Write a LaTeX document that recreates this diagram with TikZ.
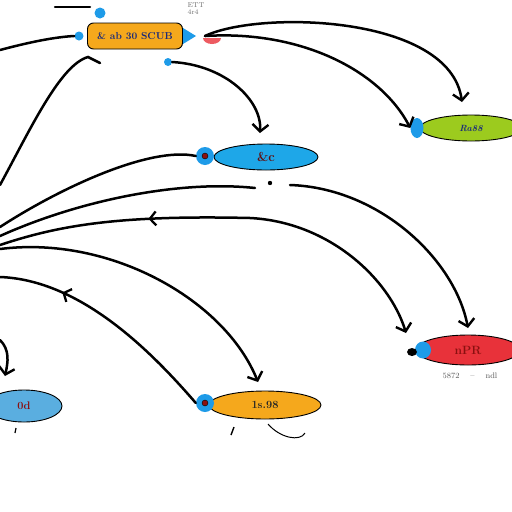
\documentclass[tikz,border=0pt]{standalone}
\usetikzlibrary{arrows.meta,shapes.geometric,decorations.markings}
\definecolor{pillorange}{HTML}{F5A81C}
\definecolor{capblue}{HTML}{1E9BE8}
\definecolor{ellblue}{HTML}{1EA7E8}
\definecolor{ellgreen}{HTML}{9CCB1E}
\definecolor{ellred}{HTML}{E8323A}
\definecolor{elllight}{HTML}{5AAEE0}
\definecolor{inkblue}{HTML}{1A2A7A}
\definecolor{inkred}{HTML}{8A1010}
\tikzset{
  conn/.style={line width=2.5pt, black, line cap=round},
  tip/.style={-{Straight Barb[length=7pt,width=16pt,line width=2.4pt]}},
  ell/.style={ellipse, draw=black, line width=0.9pt, inner sep=0pt},
  cap/.style={circle, fill=capblue, inner sep=0pt, minimum size=#1},
  reddot/.style={circle, fill=inkred, draw=black, line width=0.4pt, inner sep=0pt, minimum size=6pt},
  midback/.style={postaction={decorate, decoration={markings,
     mark=at position #1 with {\arrowreversed[line width=2.3pt]{Straight Barb[length=6pt,width=14pt]}}}}}
}
\begin{document}
\begin{tikzpicture}[x=1pt,y=-1pt]
\useasboundingbox[fill=white] (0,0) rectangle (512,512);

% ---------- nodes ----------
% top orange pill
\node[draw=black, line width=0.9pt, fill=pillorange, rounded corners=6pt,
      minimum width=95pt, minimum height=26pt, inner sep=0pt] (pill) at (135,36)
      {\textcolor{inkblue}{\fontsize{10}{10}\selectfont\bfseries \& ab 30 SCUB}};
\fill[capblue] (183,28) -- (196,36) -- (183,44) -- cycle;
\node[cap=9pt] (pl) at (79,36) {};
\node[cap=11pt] (pt) at (100,13) {};
\node[cap=8pt] (pb) at (168,62) {};
\fill[ellred!80] (203,38) arc[start angle=180,end angle=360,x radius=9pt,y radius=6pt] -- cycle;
\coordinate (pr) at (205,36);

% blue ellipse
\node[ell, fill=ellblue, minimum width=104pt, minimum height=26pt] (eb) at (266,157)
      {\textcolor{inkred!70!black}{\fontsize{13}{13}\selectfont\bfseries\&c}};
\node[cap=18pt] (ebc) at (205,156) {};
\node[reddot] at (ebc) {};

% green ellipse
\node[ell, fill=ellgreen, minimum width=102pt, minimum height=26pt] (eg) at (471,128)
      {\textcolor{inkblue}{\fontsize{9}{9}\selectfont\bfseries\itshape Ra88}};
\node[ellipse, fill=capblue, minimum width=13pt, minimum height=20pt, inner sep=0pt] (egc) at (417,128) {};

% red ellipse
\node[ell, fill=ellred, minimum width=104pt, minimum height=30pt] (er) at (468,350)
      {\textcolor{inkred}{\fontsize{12}{12}\selectfont\bfseries nPR}};
\node[ellipse, fill=capblue, minimum width=16pt, minimum height=17pt, inner sep=0pt] (erc) at (423,350) {};
\fill[black] (412,352) ellipse[x radius=5pt, y radius=4pt];
\node[text=black!65, font=\fontsize{8}{9}\selectfont] (ert) at (470,376) {5872 \quad -- \quad ndl};

% bottom orange ellipse
\node[ell, fill=pillorange, minimum width=112pt, minimum height=28pt] (eo) at (265,405)
      {\textcolor{black!85}{\fontsize{11}{11}\selectfont\bfseries 1s.98}};
\node[cap=18pt] (eoc) at (205,403) {};
\node[reddot] at (eoc) {};

% bottom-left light blue ellipse
\node[ell, fill=elllight, minimum width=76pt, minimum height=32pt] (el) at (24,406)
      {\textcolor{inkred}{\fontsize{11}{11}\selectfont\bfseries 0d}};

% scribble text top
\node[text=black!55, font=\fontsize{7}{7}\selectfont, align=left] (scr) at (196,9) {ETT\\4r4};

% ---------- free ends ----------
\coordinate (t1) at (55,7);  \coordinate (t2) at (90,7);
\coordinate (l50) at (0,50);
\coordinate (l185) at (0,185);
\coordinate (hook) at (88,57); \coordinate (hookb) at (100,63);
\coordinate (l227) at (0,227);
\coordinate (l235) at (0,236);
\coordinate (e255) at (255,188);
\coordinate (l245) at (0,245);
\coordinate (s290) at (290,185);
\coordinate (l248) at (0,249);
\coordinate (l277) at (0,277);
\coordinate (l340) at (0,340);
\coordinate (a7) at (5,376);

% ---------- connectors ----------
\draw[conn] (t1) -- (t2);
\draw[conn] (l50) .. controls (30,42) and (55,37) .. (pl.west);
\draw[conn] (l185) .. controls (30,130) and (60,65) .. (hook) -- (hookb);
\draw[conn, tip] (pb.east) .. controls (225,65) and (262,100) .. (260,133);
\draw[conn, tip] (pr) .. controls (260,10) and (450,15) .. (462,102);
\draw[conn, tip] (pr) .. controls (300,30) and (380,70) .. (egc.west);
\draw[conn] (l227) .. controls (60,188) and (150,146) .. (ebc.west);
\draw[conn] (l235) .. controls (80,200) and (180,180) .. (e255);
\draw[conn, tip, midback=0.33] (l245) .. controls (60,225) and (120,215) .. (250,218)
      .. controls (330,222) and (390,280) .. (406,333);
\draw[conn, tip] (s290) .. controls (380,188) and (455,260) .. (468,328);
\draw[conn, tip] (l248) .. controls (110,235) and (225,300) .. (258,382);
\draw[conn, midback=0.27] (l277) .. controls (80,280) and (150,350) .. (eoc.west);
\draw[conn, tip] (l340) .. controls (10,350) and (8,362) .. (a7);

% small marks
\fill[black] (270,183) circle[radius=2.2pt];
\draw[line width=1.4pt] (234,427) -- (231,435);
\draw[line width=1pt] (268,424) .. controls (280,438) and (300,442) .. (305,433);
\draw[line width=1.2pt] (16,428) -- (15,433);
\end{tikzpicture}
\end{document}
